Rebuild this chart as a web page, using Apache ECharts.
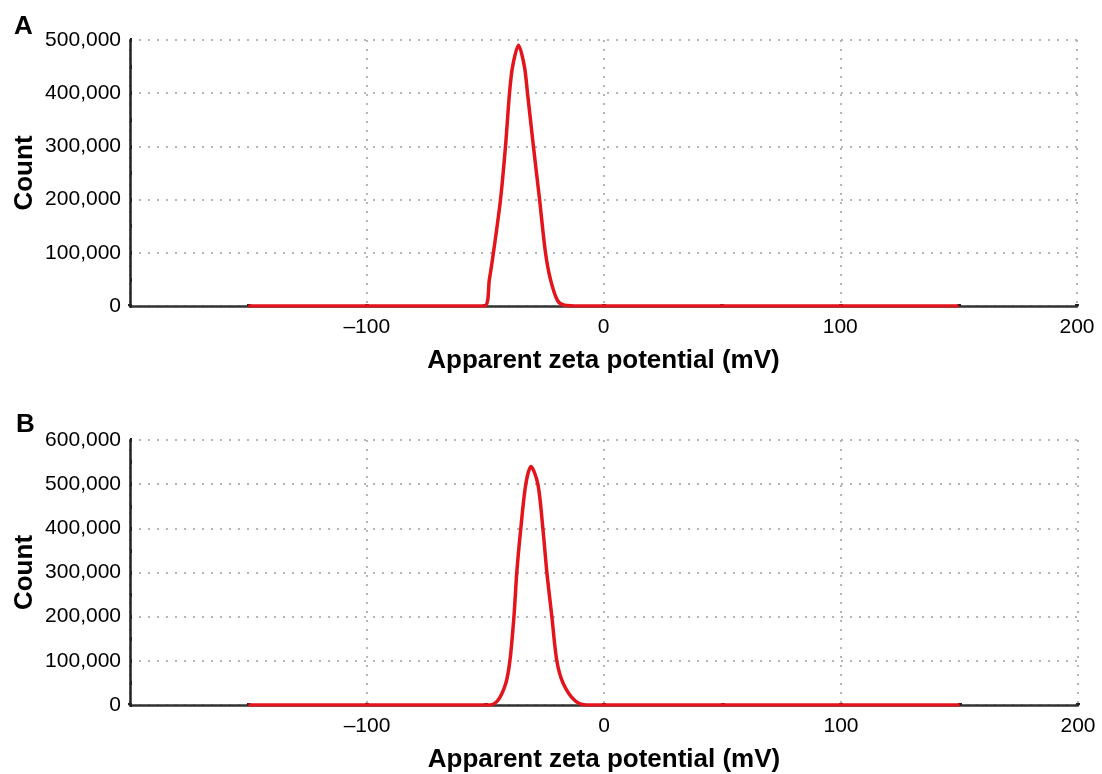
<!DOCTYPE html>
<html>
<head>
<meta charset="utf-8">
<script src="https://cdn.jsdelivr.net/npm/echarts@6/dist/echarts.min.js"></script>
<style>
  html, body { margin: 0; padding: 0; background: #fff; }
  #main { width: 1102px; height: 774px; }
</style>
</head>
<body>
<div id="main"></div>
<script>
// panel A: apparent zeta potential (mV) vs count
var potentialA = [-150, -50.3, -48.2, -46.5, -43.5, -41.4, -39.7, -38.4, -35.9, -33.4, -32.1, -29.6, -27.0, -24.5, -22.4, -19.4, -16.5, -10, 150];
var countA = [0, 0, 50000, 100000, 200000, 300000, 400000, 450000, 490000, 450000, 400000, 300000, 200000, 100000, 50000, 10000, 1500, 0, 0];

// panel B
var potentialB = [-150, -48.2, -44.8, -41.4, -39.7, -38.0, -36.8, -35.1, -33.0, -30.8, -27.9, -25.8, -24.1, -22.0, -19.9, -17.3, -12.3, -7.2, 150];
var countB = [0, 0, 10000, 50000, 100000, 200000, 300000, 400000, 500000, 540000, 500000, 400000, 300000, 200000, 100000, 50000, 10000, 0, 0];

var panelLabels = ['A', 'B'];
var xTitle = 'Apparent zeta potential (mV)';
var yTitle = 'Count';

var chart = echarts.init(document.getElementById('main'));

var font = 'Liberation Sans, Arial, sans-serif';
var dotted = { color: '#b5b5b5', width: 2, type: [2, 7] };

function xAxis(gridIndex) {
  return {
    type: 'value',
    gridIndex: gridIndex,
    min: -200,
    max: 200,
    interval: 100,
    name: xTitle,
    nameLocation: 'middle',
    nameGap: 42,
    nameTextStyle: { fontFamily: font, fontSize: 26, fontWeight: 'bold', color: '#000' },
    axisLine: { onZero: false, lineStyle: { color: '#333', width: 2.5 } },
    axisTick: { show: true, inside: true, length: 2, lineStyle: { color: '#222', width: 4 } },
    minorTick: { show: true, splitNumber: 2, length: 2, lineStyle: { color: '#222', width: 4 } },
    axisLabel: {
      fontFamily: font, fontSize: 21, color: '#000', margin: 11,
      formatter: function (v) {
        if (v === -200) return '';
        return v < 0 ? '\u2013' + Math.abs(v) : String(v);
      }
    },
    splitLine: { show: true, lineStyle: dotted }
  };
}

function yAxis(gridIndex, max) {
  return {
    type: 'value',
    gridIndex: gridIndex,
    min: 0,
    max: max,
    interval: 100000,
    name: yTitle,
    nameLocation: 'middle',
    nameGap: 92,
    nameMoveOverlap: false,
    nameTextStyle: { fontFamily: font, fontSize: 26, fontWeight: 'bold', color: '#000' },
    axisLine: { show: true, onZero: false, lineStyle: { color: '#222', width: 2.5 } },
    axisTick: { show: true, inside: true, length: 2, lineStyle: { color: '#222', width: 4 } },
    minorTick: { show: true, splitNumber: 2, length: 2, lineStyle: { color: '#222', width: 4 } },
    axisLabel: {
      fontFamily: font, fontSize: 21, color: '#000', margin: 9,
      formatter: function (v) { return v.toLocaleString('en-US'); }
    },
    splitLine: { show: true, lineStyle: dotted }
  };
}

function pairs(xs, ys) {
  return xs.map(function (x, i) { return [x, ys[i]]; });
}

var option = {
  backgroundColor: '#fff',
  animation: false,
  title: [
    { text: panelLabels[0], left: 9, top: 9, textStyle: { fontFamily: font, fontSize: 26, fontWeight: 'bold', color: '#000' } },
    { text: panelLabels[1], left: 11, top: 407, textStyle: { fontFamily: font, fontSize: 26, fontWeight: 'bold', color: '#000' } }
  ],
  grid: [
    { left: 130, right: 25, top: 40, height: 266 },
    { left: 130, right: 24, top: 440, height: 267 }
  ],
  xAxis: [xAxis(0), xAxis(1)],
  yAxis: [yAxis(0, 500000), yAxis(1, 600000)],
  series: [
    {
      type: 'line',
      xAxisIndex: 0,
      yAxisIndex: 0,
      data: pairs(potentialA, countA),
      smooth: 0.3,
      showSymbol: false,
      lineStyle: { color: '#e3141b', width: 3.5 }
    },
    {
      type: 'line',
      xAxisIndex: 1,
      yAxisIndex: 1,
      data: pairs(potentialB, countB),
      smooth: 0.3,
      showSymbol: false,
      lineStyle: { color: '#e3141b', width: 3.5 }
    }
  ]
};

chart.setOption(option);
</script>
</body>
</html>
